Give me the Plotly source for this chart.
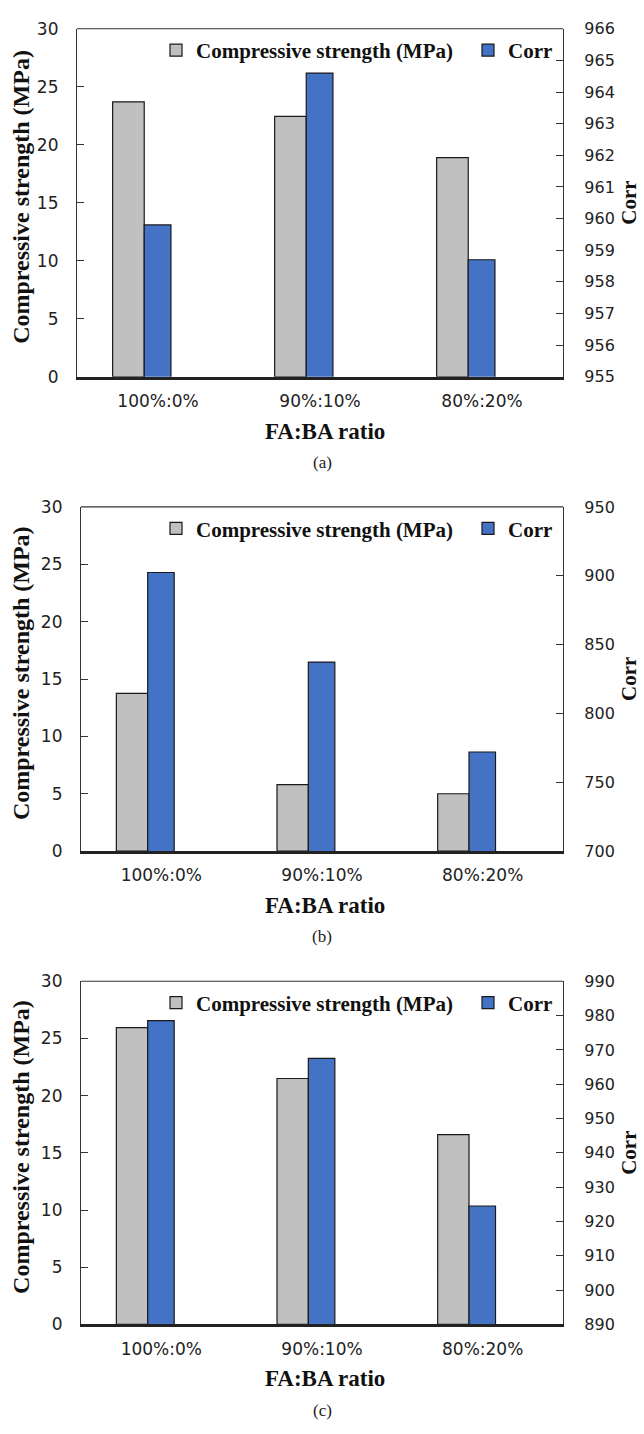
import plotly.graph_objects as go

W, H = 644, 1434

categories = ["100%:0%", "90%:10%", "80%:20%"]

strength_a = [23.7, 22.45, 18.9]
corr_a = [959.8, 964.6, 958.7]

strength_b = [13.75, 5.8, 5.0]
corr_b = [902.4, 837.3, 772.0]

strength_c = [25.95, 21.5, 16.6]
corr_c = [978.5, 967.5, 924.5]

left_range = [0, 30]
left_dtick = 5
right_ranges = [[955, 966], [700, 950], [890, 990]]
right_dticks = [1, 50, 10]

name_s = "Compressive strength (MPa)"
name_c = "Corr"
captions = ["(a)", "(b)", "(c)"]

GRAY = "#C0C0C0"
BLUE = "#4472C4"
EDGE = "#1a1a1a"
SERIF = "Liberation Serif, Times New Roman, serif"
SANS = "DejaVu Sans, sans-serif"

# panel geometry in pixels: (left, right, top, bottom)
panels = [(77, 563, 19, 372), (81, 563, 504, 853), (81, 563, 985, 1333)]
strengths = [strength_a, strength_b, strength_c]
corrs = [corr_a, corr_b, corr_c]


def fx(x):
    return x / W


def fy(y):
    return 1 - y / H


fig = go.Figure()
layout = dict(
    width=W, height=H, autosize=False,
    margin=dict(l=0, r=0, t=0, b=0),
    paper_bgcolor="white", plot_bgcolor="white",
    barmode="group", showlegend=True,
)
annotations = []
shapes = []

for i, (l, r, t, b) in enumerate(panels):
    xa = "x" if i == 0 else f"x{i+1}"
    ya = "y" if i == 0 else f"y{2*i+1}"
    yb = f"y{2*i+2}"
    xkey = "xaxis" if i == 0 else f"xaxis{i+1}"
    ykey = "yaxis" if i == 0 else f"yaxis{2*i+1}"
    ykey2 = f"yaxis{2*i+2}"
    leg_s = "legend" if i == 0 else f"legend{2*i+1}"
    leg_c = f"legend{2*i+2}"

    fig.add_trace(go.Bar(
        x=categories, y=strengths[i], name=name_s,
        xaxis=xa, yaxis=ya, legend=leg_s,
        offset=-0.28, width=0.195,
        marker=dict(color=GRAY, line=dict(color=EDGE, width=1.2)),
    ))
    fig.add_trace(go.Bar(
        x=categories, y=corrs[i], name=name_c,
        xaxis=xa, yaxis=yb, legend=leg_c,
        offset=-0.085, width=0.165,
        marker=dict(color=BLUE, line=dict(color=EDGE, width=1.2)),
    ))

    layout[xkey] = dict(
        domain=[fx(l), fx(r)], anchor=ya, type="category",
        showline=True, linewidth=2.5, linecolor="#222",
        ticks="", showgrid=False, zeroline=False,
        tickfont=dict(family=SANS, size=17, color="#222"),
        ticklabelstandoff=7, fixedrange=True,
    )
    layout[ykey] = dict(
        domain=[fy(b), fy(t)], anchor=xa, range=left_range, dtick=left_dtick,
        showline=True, linewidth=1.2, linecolor="#333",
        ticks="inside", ticklen=7, tickwidth=1.2, tickcolor="#333",
        showgrid=False, zeroline=False,
        tickfont=dict(family=SANS, size=17, color="#222"),
        ticklabelstandoff=14,
    )
    layout[ykey2] = dict(
        overlaying=ya, anchor=xa, side="right",
        range=right_ranges[i], dtick=right_dticks[i],
        showline=True, linewidth=1.2, linecolor="#333",
        ticks="inside", ticklen=7, tickwidth=1.2, tickcolor="#333",
        showgrid=False, zeroline=False,
        tickfont=dict(family=SANS, size=16, color="#222"),
        ticklabelstandoff=17,
    )
    for leg, lx in ((leg_s, 156), (leg_c, 468)):
        layout[leg] = dict(
            orientation="h", x=fx(lx), xanchor="left",
            y=fy(t + 22), yanchor="middle",
            bgcolor="rgba(0,0,0,0)", borderwidth=0,
            font=dict(family=SERIF, size=21, color="#111", weight="bold"),
            itemclick=False, itemdoubleclick=False,
        )

    # top frame line
    shapes.append(dict(type="line", xref=f"{xa} domain", yref=f"{ya} domain",
                       x0=0, x1=1, y0=1, y1=1,
                       line=dict(color="#333", width=1.2)))

    cy = (t + b) / 2
    annotations.append(dict(
        text="Compressive strength (MPa)", textangle=-90,
        x=fx(21), y=fy(cy - 6), xref="paper", yref="paper",
        xanchor="center", yanchor="middle", showarrow=False,
        font=dict(family=SERIF, size=24, color="#111", weight="bold"),
    ))
    annotations.append(dict(
        text="Corr", textangle=-90,
        x=fx(629), y=fy(cy), xref="paper", yref="paper",
        xanchor="center", yanchor="middle", showarrow=False,
        font=dict(family=SERIF, size=21, color="#111", weight="bold"),
        borderpad=0,
    ))
    annotations.append(dict(
        text="FA:BA ratio",
        x=fx(325), y=fy(b + 55), xref="paper", yref="paper",
        xanchor="center", yanchor="middle", showarrow=False,
        font=dict(family=SERIF, size=23, color="#111", weight="bold"),
    ))
    annotations.append(dict(
        text=captions[i],
        x=fx(322), y=fy(b + 87), xref="paper", yref="paper",
        xanchor="center", yanchor="middle", showarrow=False,
        font=dict(family=SERIF, size=17, color="#222"),
    ))

layout["annotations"] = annotations
layout["shapes"] = shapes
fig.update_layout(**layout)
fig.write_html(
    "out.html",
    config={"displayModeBar": False},
    post_script="document.body.style.margin='0';"
                "document.documentElement.style.overflow='hidden';",
)
